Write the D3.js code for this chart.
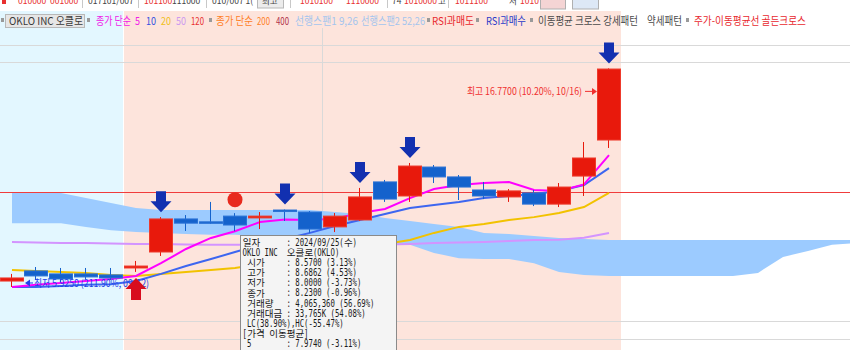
<!DOCTYPE html>
<html>
<head>
<meta charset="utf-8">
<script src="https://cdn.jsdelivr.net/npm/d3@7"></script>
<style>
  body { margin: 0; background: #fff; }
  svg { display: block; font-family: "Noto Sans CJK KR", "Noto Sans", sans-serif; }
</style>
</head>
<body>
<div id="chart"></div>
<script>
// daily candles, OKLO 2024/09/12 ~ 10/16
const dates = ["09/12","09/13","09/16","09/17","09/18","09/19","09/20","09/23","09/24","09/25","09/26","09/27","09/30",
               "10/01","10/02","10/03","10/04","10/07","10/08","10/09","10/10","10/11","10/14","10/15","10/16"];
const open  = [6.38,6.68,6.59,6.59,6.56,6.77,7.28,8.46,8.35,8.57,8.50,8.81,8.73,8.16,8.42,10.01,9.39,10.71,10.24,9.65,9.35,9.52,9.05,10.28,12.11];
const high  = [6.59,6.80,6.77,6.77,6.77,6.99,8.53,8.61,9.14,8.6862,8.73,8.83,8.77,8.69,9.74,10.10,10.91,10.81,10.33,10.01,9.69,9.65,9.96,12.00,16.77];
const low   = [6.21,6.41,6.35,6.44,6.41,6.65,7.15,8.01,8.27,8.00,8.08,8.38,7.94,7.97,8.38,9.14,9.14,9.96,9.22,9.26,9.14,8.97,8.93,9.39,11.68];
const close = [6.47,6.53,6.44,6.50,6.47,6.83,8.46,8.30,8.31,8.23,8.57,8.77,8.08,8.57,9.35,9.26,10.76,10.24,9.78,9.39,9.61,9.05,9.78,11.16,16.72];

// moving averages (종가 단순)
const ma5  = [6.21,6.27,6.32,6.38,6.44,6.53,6.92,7.38,7.76,8.00,8.34,8.44,8.42,8.47,8.69,8.85,9.30,9.69,9.87,9.96,10.01,9.65,9.61,9.90,11.31];
const ma10 = [6.21,6.21,6.24,6.27,6.29,6.38,6.59,6.83,7.05,7.28,7.52,7.72,7.94,8.19,8.42,8.65,8.89,9.01,9.14,9.30,9.39,9.48,9.61,9.87,10.66];
const ma20 = [6.71,6.68,6.65,6.62,6.56,6.53,6.59,6.65,6.71,6.77,6.89,7.02,7.15,7.28,7.41,7.55,7.69,7.94,8.16,8.27,8.42,8.53,8.69,8.93,9.52];
const ma50 = [7.62,7.60,7.58,7.58,7.57,7.55,7.55,7.53,7.52,7.52,7.52,7.52,7.52,7.52,7.52,7.53,7.55,7.58,7.60,7.62,7.65,7.69,7.70,7.77,7.94];

// 선행스팬 (shifted 26 ahead, so it runs past the last candle)
const span1 = [9.56,9.56,9.52,9.30,9.10,8.89,8.81,8.81,8.81,8.81,8.81,8.81,8.81,8.73,8.65,8.50,8.38,8.27,8.16,7.94,7.90,7.83,7.76,7.72,
               7.69,7.69,7.69,7.69,7.69,7.69,7.69,7.69,7.69,7.69,7.69];
const span2 = [8.30,8.30,8.30,8.16,8.04,7.97,7.94,7.90,7.87,7.87,7.83,7.83,7.80,7.76,7.69,7.58,7.52,7.25,7.08,7.05,7.05,6.92,6.65,6.56,
               6.53,6.53,6.53,6.53,6.53,6.53,6.62,7.12,7.31,7.52,7.58];

// signals (candle index)
const sellSignals = [6, 11, 14, 16, 24];
const buySignals = [5];
const dotSignals = [9];

const refPrice = 9.56;
const gridPrices = [18.65, 17.27, 5.32, 4.90];
const monthBreaks = [13];
const shadeRanges = [[0, 4, "#e3f7ff"], [5, 24, "#fde4dc"]];

const hiLabel = "최고 16.7700 (10.20%, 10/16)";
const loLabel = "최저 5.9250 (211.90%, 09/12)";

const tipRows = [
  "일자      : 2024/09/25(수)",
  "OKLO INC  오클로(OKLO)",
  " 시가     : 8.5700 (3.13%)",
  " 고가     : 8.6862 (4.53%)",
  " 저가     : 8.0000 (-3.73%)",
  " 종가     : 8.2300 (-0.96%)",
  " 거래량   : 4,065,360 (56.69%)",
  " 거래대금 : 33,765K (54.08%)",
  " LC(38.90%),HC(-55.47%)",
  "[가격 이동평균]",
  " 5        : 7.9740 (-3.11%)"
];

// legend row: text, colour, left x, width
const legend = [
  ["OKLO INC  오클로", "#3a3a3a", 9, 74],
  ["종가 단순", "#f020e8", 96, 35],
  ["5", "#f020e8", 135, 5],
  ["10", "#3050e0", 146, 10],
  ["20", "#f0c020", 161, 10],
  ["50", "#cc99f0", 176, 10],
  ["120", "#e83030", 191, 13],
  ["종가 단순", "#ff7f27", 216, 37],
  ["200", "#ff7f27", 257, 13],
  ["400", "#b03048", 276, 13],
  ["선행스팬1 9,26", "#a4c4ee", 295, 63],
  ["선행스팬2 52,26", "#a4c4ee", 361, 64],
  ["RSI과매도", "#e8282e", 432, 42],
  ["RSI과매수", "#2838c8", 486, 40],
  ["이동평균 크로스 강세패턴", "#4a4a4a", 538, 100],
  ["약세패턴", "#4a4a4a", 647, 35],
  ["주가-이동평균선 골든크로스", "#e8282e", 694, 112]
];
const legendMarks = [1, 87, 209, 427, 476, 530, 686];

// toolbar strip above the legend, only its lower half is on screen
const strip = [
  ["010000", "#e83030", 18], ["001000", "#e83030", 50], ["017101/007", "#444", 88],
  ["101100", "#e83030", 144], ["111000", "#444", 172], ["010/007 1(", "#444", 212],
  ["최고", "#444", 262], ["1010100", "#e83030", 300], ["1110000", "#e83030", 346],
  ["74", "#444", 392], ["1010000", "#e83030", 404], ["고", "#444", 438],
  ["1011100", "#e83030", 455], ["저", "#444", 509], ["1010", "#e83030", 520]
];
const stripSeps = [82, 138, 206, 290, 387, 448];

const W = 850, H = 350;
const svg = d3.select("#chart").append("svg").attr("width", W).attr("height", H);

const step = 24.875;
const x = d3.scaleLinear().domain([0, 1]).range([0, step]);
const left = i => Math.floor(x(i));
const cx = i => left(i) + 12;
const y = d3.scaleLog().domain([5.5, 17.5]).range([313.7, 59]);

// backgrounds
svg.append("rect").attr("width", W).attr("height", H).attr("fill", "#fff");
shadeRanges.forEach(([a, b, c], k) => {
  const x0 = k === 0 ? 0 : left(a);
  svg.append("rect").attr("x", x0).attr("y", 11)
    .attr("width", left(b) + 24 - x0).attr("height", H - 11).attr("fill", c);
});

// grid
svg.selectAll(".grid").data(gridPrices).join("line")
  .attr("x1", 0).attr("x2", W)
  .attr("y1", d => Math.round(y(d)) + 0.5).attr("y2", d => Math.round(y(d)) + 0.5)
  .attr("stroke", "#d9d9d9");
monthBreaks.forEach(i => {
  svg.append("line").attr("x1", left(i) - 0.5).attr("x2", left(i) - 0.5)
    .attr("y1", 28).attr("y2", H).attr("stroke", "#d9d9d9");
});

// cloud
const idx = d3.range(span1.length);
svg.append("path").datum(idx)
  .attr("fill", "#9ccbff")
  .attr("d", d3.area().x(i => cx(i)).y0(i => y(span2[i])).y1(i => y(span1[i])));

// reference line
svg.append("line").attr("x1", 0).attr("x2", W)
  .attr("y1", Math.round(y(refPrice)) + 0.5).attr("y2", Math.round(y(refPrice)) + 0.5)
  .attr("stroke", "#f03c3c");

// moving averages
const line = d3.line().x((d, i) => cx(i)).y(d => y(d));
[[ma50, "#d394ff"], [ma20, "#f2c200"], [ma10, "#3d66f0"], [ma5, "#ff00ff"]].forEach(([s, c]) => {
  svg.append("path").datum(s).attr("fill", "none").attr("stroke", c)
    .attr("stroke-width", 2).attr("d", line);
});

// candles
const candles = d3.range(dates.length);
const up = i => close[i] >= open[i];
const g = svg.append("g");
g.selectAll(".wick").data(candles).join("line")
  .attr("x1", i => cx(i) - 0.5).attr("x2", i => cx(i) - 0.5)
  .attr("y1", i => y(high[i])).attr("y2", i => y(low[i]))
  .attr("stroke", i => up(i) ? "#e8190c" : "#1462cc");
g.selectAll(".body").data(candles).join("rect")
  .attr("x", i => left(i) + 0.5).attr("width", 23)
  .attr("y", i => Math.min(y(open[i]), y(close[i])))
  .attr("height", i => Math.max(1.5, Math.abs(y(open[i]) - y(close[i]))))
  .attr("fill", i => up(i) ? "#e8190c" : "#1462cc")
  .attr("stroke", i => up(i) ? "#ee3a2c" : "#2a72d6");

// high / low annotations
const last = dates.length - 1;
const hy = y(high[last]) + 23;
svg.append("text").attr("x", 467).attr("y", hy + 4)
  .attr("textLength", 115).attr("lengthAdjust", "spacingAndGlyphs")
  .attr("font-size", 10).attr("fill", "#f03030").text(hiLabel);
svg.append("line").attr("x1", 585).attr("x2", 594).attr("y1", hy).attr("y2", hy).attr("stroke", "#f03030");
svg.append("path").attr("d", `M597,${hy}l-5,-3.5v7z`).attr("fill", "#f03030");

const ly = y(low[0]) - 4;
svg.append("line").attr("x1", 28).attr("x2", 33).attr("y1", ly).attr("y2", ly).attr("stroke", "#2040e8");
svg.append("path").attr("d", `M25,${ly}l5,-3.5v7z`).attr("fill", "#2040e8");
svg.append("text").attr("x", 34).attr("y", ly + 4)
  .attr("textLength", 115).attr("lengthAdjust", "spacingAndGlyphs")
  .attr("font-size", 10).attr("fill", "#2040e8").text(loLabel);

// signal markers
sellSignals.forEach(i => {
  const t = y(high[i]) - 5, c = cx(i);
  svg.append("path").attr("fill", "#1230b0")
    .attr("d", `M${c - 5},${t - 21}H${c + 5}V${t - 11}H${c + 10.5}L${c},${t}L${c - 10.5},${t - 11}H${c - 5}Z`);
});
buySignals.forEach(i => {
  const t = y(low[i]) + 6, c = cx(i);
  svg.append("path").attr("fill", "#d80c1e")
    .attr("d", `M${c - 5},${t + 22}H${c + 5}V${t + 11}H${c + 10.5}L${c},${t}L${c - 10.5},${t + 11}H${c - 5}Z`);
});
dotSignals.forEach(i => {
  svg.append("circle").attr("cx", cx(i)).attr("cy", y(high[i]) - 13.5).attr("r", 7.5).attr("fill", "#e82a1e");
});

// top strip
const topStrip = svg.append("g");
topStrip.append("rect").attr("width", W).attr("height", 10).attr("fill", "#fff");
topStrip.append("rect").attr("x", 2).attr("y", 0).attr("width", 4).attr("height", 4).attr("fill", "#e83030");
topStrip.append("rect").attr("x", 257.5).attr("y", -2).attr("width", 26).attr("height", 10)
  .attr("fill", "#ececec").attr("stroke", "#b8b8b8");
topStrip.selectAll(".sep").data(stripSeps).join("rect")
  .attr("x", d => d).attr("y", 0).attr("width", 1).attr("height", 8).attr("fill", "#c8c8c8");
topStrip.selectAll(".st").data(strip).join("text")
  .attr("x", d => d[2]).attr("y", 4).attr("font-size", 8.5)
  .attr("fill", d => d[1]).text(d => d[0]);
topStrip.append("rect").attr("x", 540.5).attr("y", -2).attr("width", 25).attr("height", 11).attr("fill", "#f4d4d4").attr("stroke", "#b0b0b0");
topStrip.append("rect").attr("x", 572.5).attr("y", -2).attr("width", 26).attr("height", 11).attr("fill", "#dde8f6").attr("stroke", "#b0b0b0");

// legend row
svg.append("rect").attr("x", 5.5).attr("y", 14.5).attr("width", 79).attr("height", 13)
  .attr("fill", "#e6e6e6").attr("stroke", "#b8b8b8");
legendMarks.forEach(m => {
  svg.append("rect").attr("x", m).attr("y", 18).attr("width", 3).attr("height", 4).attr("fill", "#9a9a9a");
});
svg.selectAll(".lg").data(legend).join("text")
  .attr("x", d => d[2]).attr("y", 25).attr("font-size", 11)
  .attr("textLength", d => d[3]).attr("lengthAdjust", "spacingAndGlyphs")
  .attr("fill", d => d[1]).text(d => d[0]);

// data window
const tip = svg.append("g");
tip.append("rect").attr("x", 240.5).attr("y", 235.5).attr("width", 156).attr("height", 130)
  .attr("fill", "#f4f4f4").attr("stroke", "#8a8a8a");
const cellPx = 4.4, tipX = 242.5;
const asciiG = tip.append("g").attr("transform", `translate(${tipX},0) scale(${cellPx / 6.6},1)`);
tipRows.forEach((row, r) => {
  let c = 0;
  const asc = [], ax = [], kor = [], kx = [];
  for (const ch of row) {
    const wide = ch.charCodeAt(0) > 0x2e80;
    if (wide) { kor.push(ch); kx.push((tipX + c * cellPx + 0.3).toFixed(1)); }
    else if (ch !== " ") { asc.push(ch); ax.push((c * 6.6).toFixed(1)); }
    c += wide ? 2 : 1;
  }
  const by = 246 + r * 10.1;
  if (asc.length) asciiG.append("text").attr("x", ax.join(" ")).attr("y", by)
    .attr("font-family", "'DejaVu Sans Mono', monospace")
    .attr("font-size", 11).attr("fill", "#1a1a1a").text(asc.join(""));
  if (kor.length) tip.append("text").attr("x", kx.join(" ")).attr("y", by)
    .attr("font-size", 9.5).attr("fill", "#1a1a1a").text(kor.join(""));
});
</script>
</body>
</html>
